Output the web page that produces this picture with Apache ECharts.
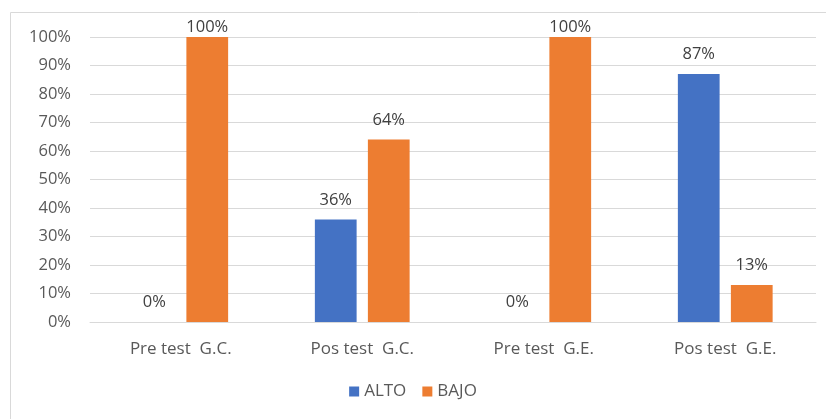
<!DOCTYPE html>
<html><head><meta charset="utf-8">
<script src="https://cdn.jsdelivr.net/npm/echarts@6/dist/echarts.min.js"></script>
<style>html,body{margin:0;padding:0;background:#fff}#c{width:826px;height:419px}</style>
</head><body><div id="c"></div>
<script>
const categories = ['Pre test  G.C.', 'Pos test  G.C.', 'Pre test  G.E.', 'Pos test  G.E.'];
const alto = [0, 36, 0, 87];
const bajo = [100, 64, 100, 13];
const yTicks = [0, 10, 20, 30, 40, 50, 60, 70, 80, 90, 100];

const chart = echarts.init(document.getElementById('c'));
const font = 'Open Sans, Liberation Sans, sans-serif';
const lbl = {show: true, position: 'top', formatter: p => p.value + '%', color: '#404040', fontSize: 16.5, fontFamily: font, distance: 11};
// labels of bars reaching the top are pushed down into the plot area (as in the original)
const items = arr => arr.map(v => v >= 100 ? {value: v, label: {distance: 1}} : v);
chart.setOption({
  animation: false,
  graphic: [{type: 'rect', shape: {x: 10.5, y: 12.5, width: 830, height: 420}, style: {fill: 'none', stroke: '#d9d9d9', lineWidth: 1}}],
  grid: {left: 90, right: 10, top: 37, bottom: 97},
  legend: {bottom: 14, left: 'center', itemWidth: 10, itemHeight: 10, itemGap: 16, icon: 'rect',
    textStyle: {color: '#595959', fontSize: 17, fontFamily: font}},
  xAxis: {type: 'category', data: categories,
    axisLine: {lineStyle: {color: '#d9d9d9', width: 1}}, axisTick: {show: false},
    axisLabel: {color: '#595959', fontSize: 17, fontFamily: font, margin: 19}},
  yAxis: {type: 'value', min: 0, max: 100, interval: 10,
    axisLabel: {formatter: v => yTicks.includes(v) ? v + '%' : '', color: '#595959', fontSize: 16.5, fontFamily: font, margin: 19},
    splitLine: {lineStyle: {color: '#d9d9d9', width: 1}}, axisLine: {show: false}, axisTick: {show: false}},
  series: [
    {name: 'ALTO', type: 'bar', data: items(alto), barWidth: '23%', barGap: '27%', itemStyle: {color: '#4472C4'}, label: lbl},
    {name: 'BAJO', type: 'bar', data: items(bajo), barWidth: '23%', itemStyle: {color: '#ED7D31'}, label: lbl}
  ]
});
</script></body></html>
